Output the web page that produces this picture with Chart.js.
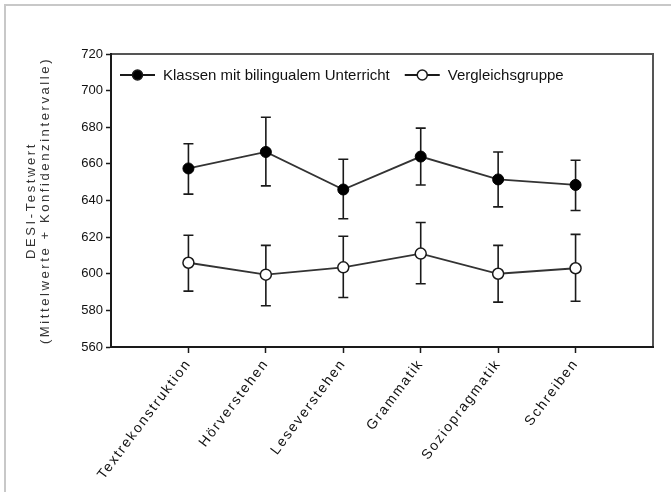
<!DOCTYPE html>
<html>
<head>
<meta charset="utf-8">
<script src="https://cdn.jsdelivr.net/npm/chart.js@4.4.1/dist/chart.umd.min.js"></script>
<style>
  html, body { margin: 0; padding: 0; background: #fff; overflow: hidden; }
  #frame {
    position: absolute; left: 4px; top: 4px; width: 700px; height: 520px;
    border: 2px solid #c8c8c8;
  }
  #plot { position: absolute; left: 0; top: 0; }
</style>
</head>
<body>
<div id="frame"></div>
<canvas id="plot" width="671" height="492"></canvas>
<script>
// DESI test scores: means with confidence intervals
const categories = ['Textrekonstruktion', 'Hörverstehen', 'Leseverstehen', 'Grammatik', 'Soziopragmatik', 'Schreiben'];

const bilingualMean = [657.5, 666.5, 646, 664, 651.5, 648.5];
const bilingualLow = [643.5, 648, 630, 648.5, 636.5, 634.5];
const bilingualHigh = [671, 685.5, 662.5, 679.5, 666.5, 662];

const comparisonMean = [606, 599.5, 603.5, 611, 600, 603];
const comparisonLow = [590.5, 582.5, 587, 594.5, 584.5, 585];
const comparisonHigh = [621, 615.5, 620.5, 628, 615.5, 621.5];

const yTicks = [560, 580, 600, 620, 640, 660, 680, 700, 720];

const seriesNames = ['Klassen mit bilingualem Unterricht', 'Vergleichsgruppe'];
const yTitle = ['DESI-Testwert', '(Mittelwerte + Konfidenzintervalle)'];

const FONT = '"Liberation Sans", Arial, sans-serif';
const INK = '#1a1a1a';

function points(values) {
  return values.map((v, i) => ({ x: i, y: v }));
}

// box around the plot area (axes draw their own black lines over it)
const boxPlugin = {
  id: 'box',
  beforeDraw(chart) {
    const { ctx, chartArea: a } = chart;
    ctx.save();
    ctx.strokeStyle = '#555';
    ctx.lineWidth = 2;
    ctx.strokeRect(a.left, a.top, a.right - a.left, a.bottom - a.top);
    ctx.restore();
  },
};

const errorBars = {
  id: 'errorBars',
  beforeDatasetsDraw(chart) {
    const { ctx, scales: { x, y } } = chart;
    ctx.save();
    ctx.strokeStyle = INK;
    ctx.lineWidth = 1.6;
    chart.data.datasets.forEach(ds => {
      ds.data.forEach((p, i) => {
        const px = x.getPixelForValue(p.x);
        const lo = y.getPixelForValue(ds.errLow[i]);
        const hi = y.getPixelForValue(ds.errHigh[i]);
        ctx.beginPath();
        ctx.moveTo(px, lo); ctx.lineTo(px, hi);
        ctx.moveTo(px - 5, lo); ctx.lineTo(px + 5, lo);
        ctx.moveTo(px - 5, hi); ctx.lineTo(px + 5, hi);
        ctx.stroke();
      });
    });
    ctx.restore();
  },
};

// spaced-out x labels, like the scanned original
const spacedLabels = {
  id: 'spacedLabels',
  afterLayout(chart) {
    const xs = chart.scales.x;
    if (xs._spaced) return;
    const orig = xs.drawLabels.bind(xs);
    xs.drawLabels = area => {
      chart.ctx.save();
      chart.ctx.letterSpacing = '1.8px';
      orig(area);
      chart.ctx.restore();
    };
    xs._spaced = true;
  },
};

// legend inside the plot + rotated two-line y title
const annotations = {
  id: 'annotations',
  afterDraw(chart) {
    const { ctx, chartArea: a } = chart;
    ctx.save();

    ctx.font = '15px ' + FONT;
    ctx.textBaseline = 'middle';
    const ly = a.top + 21;
    let lx = a.left + 9;
    chart.data.datasets.forEach((ds, i) => {
      ctx.strokeStyle = INK;
      ctx.lineWidth = 1.8;
      ctx.beginPath();
      ctx.moveTo(lx, ly); ctx.lineTo(lx + 35, ly);
      ctx.stroke();
      ctx.beginPath();
      ctx.arc(lx + 17.5, ly, 5, 0, Math.PI * 2);
      ctx.fillStyle = ds.pointBackgroundColor;
      ctx.fill();
      ctx.lineWidth = 1.5;
      ctx.stroke();
      ctx.fillStyle = '#111';
      ctx.fillText(seriesNames[i], lx + 43, ly + 1);
      lx += 43 + ctx.measureText(seriesNames[i]).width + 15;
    });

    const cy = (a.top + a.bottom) / 2;
    ctx.fillStyle = '#333';
    ctx.font = '13px ' + FONT;
    ctx.letterSpacing = '2.6px';
    ctx.textAlign = 'center';
    [31, 45].forEach((tx, i) => {
      ctx.save();
      ctx.translate(tx, cy);
      ctx.rotate(-Math.PI / 2);
      ctx.fillText(yTitle[i], 0, 0);
      ctx.restore();
    });
    ctx.restore();
  },
};

new Chart(document.getElementById('plot'), {
  type: 'line',
  data: {
    datasets: [
      {
        label: seriesNames[0],
        data: points(bilingualMean),
        errLow: bilingualLow,
        errHigh: bilingualHigh,
        borderColor: '#333',
        borderWidth: 1.8,
        pointRadius: 5.5,
        pointBackgroundColor: '#000',
        pointBorderColor: '#000',
        pointBorderWidth: 1,
        tension: 0,
      },
      {
        label: seriesNames[1],
        data: points(comparisonMean),
        errLow: comparisonLow,
        errHigh: comparisonHigh,
        borderColor: '#333',
        borderWidth: 1.8,
        pointRadius: 5.5,
        pointBackgroundColor: '#fff',
        pointBorderColor: INK,
        pointBorderWidth: 1.5,
        tension: 0,
      },
    ],
  },
  options: {
    responsive: false,
    animation: false,
    layout: { padding: { top: 54, right: 18, left: 0, bottom: 0 } },
    plugins: { legend: { display: false }, tooltip: { enabled: false } },
    scales: {
      x: {
        type: 'linear',
        min: -1,
        max: 6,
        afterBuildTicks: s => { s.ticks = categories.map((_, i) => ({ value: i })); },
        afterFit: s => { s.height = 145; },
        ticks: {
          autoSkip: false,
          minRotation: 53,
          maxRotation: 53,
          padding: 3,
          color: '#111',
          font: { family: FONT, size: 14 },
          callback: v => categories[v],
        },
        grid: { drawOnChartArea: false, drawTicks: true, tickLength: 6, tickColor: INK, tickWidth: 1.5 },
        border: { color: INK, width: 2 },
      },
      y: {
        min: 560,
        max: 720,
        afterBuildTicks: s => { s.ticks = yTicks.map(v => ({ value: v })); },
        afterFit: s => { s.width = 111; },
        ticks: {
          padding: 3,
          color: '#111',
          font: { family: FONT, size: 13 },
        },
        grid: { drawOnChartArea: false, drawTicks: true, tickLength: 5, tickColor: INK, tickWidth: 1.5 },
        border: { color: INK, width: 2 },
      },
    },
  },
  plugins: [boxPlugin, errorBars, spacedLabels, annotations],
});
</script>
</body>
</html>
